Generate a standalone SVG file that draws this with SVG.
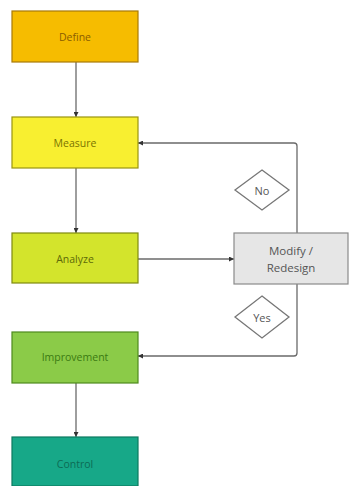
<svg xmlns="http://www.w3.org/2000/svg" width="350" height="486" viewBox="0 0 350 486">
<defs>
<marker id="ah" viewBox="0 0 10 10" refX="10" refY="5" markerWidth="5" markerHeight="5" orient="auto" markerUnits="userSpaceOnUse">
<path d="M0,0 L10,5 L0,10 z" fill="#333"/>
</marker>
<style>
.box{stroke-width:1.2}
.t{font-family:"Open Sans","Liberation Sans",sans-serif;font-size:10.5px;text-anchor:middle;dominant-baseline:central}
.c{fill:none;stroke:#6a6a6a;stroke-width:1.3}
.d{fill:#fff;stroke:#777;stroke-width:1.3}
</style>
</defs>
<rect width="350" height="486" fill="#fff"/>
<g id="connectors">
<line class="c" x1="76" y1="62" x2="76" y2="117" marker-end="url(#ah)"/>
<line class="c" x1="76" y1="168" x2="76" y2="233" marker-end="url(#ah)"/>
<line class="c" x1="76" y1="383" x2="76" y2="437" marker-end="url(#ah)"/>
<line class="c" x1="138" y1="259" x2="234" y2="259" marker-end="url(#ah)"/>
<path class="c" d="M297,233 V146 Q297,143 294,143 H138" marker-end="url(#ah)"/>
<path class="c" d="M297,284 V353 Q297,356 294,356 H138" marker-end="url(#ah)"/>
</g>
<g id="define">
<rect class="box" x="12" y="11" width="126" height="51" fill="#F6BC00" stroke="#A87A08"/>
<text class="t" x="75" y="37" fill="#8A5C00">Define</text>
</g>
<g id="measure">
<rect class="box" x="12" y="117" width="126" height="51" fill="#F8EF30" stroke="#9A9410"/>
<text class="t" x="75" y="143" fill="#7A7400">Measure</text>
</g>
<g id="analyze">
<rect class="box" x="12" y="233" width="126" height="50" fill="#D3E42C" stroke="#7F8A10"/>
<text class="t" x="75" y="259" fill="#5E6A08">Analyze</text>
</g>
<g id="improvement">
<rect class="box" x="12" y="332" width="126" height="51" fill="#8BCB48" stroke="#4F8A1E"/>
<text class="t" x="75" y="357" fill="#3B7A12">Improvement</text>
</g>
<g id="control">
<rect class="box" x="12" y="437" width="126" height="49" fill="#17A888" stroke="#0D7A60"/>
<text class="t" x="75" y="464" fill="#0C6B55">Control</text>
</g>
<g id="modify">
<rect class="box" x="234" y="233" width="114" height="51" fill="#E6E6E6" stroke="#8A8A8A"/>
<text class="t" x="291" y="250" fill="#555" style="font-size:11.5px">Modify /</text>
<text class="t" x="291" y="267" fill="#555" style="font-size:11.5px">Redesign</text>
</g>
<g id="no">
<path class="d" d="M262,170 L289,190 L262,210 L235,190 Z"/>
<text class="t" x="262" y="190" fill="#555" style="font-size:11px">No</text>
</g>
<g id="yes">
<path class="d" d="M262,296 L289,317 L262,338 L235,317 Z"/>
<text class="t" x="262" y="317" fill="#555" style="font-size:11px">Yes</text>
</g>
</svg>
